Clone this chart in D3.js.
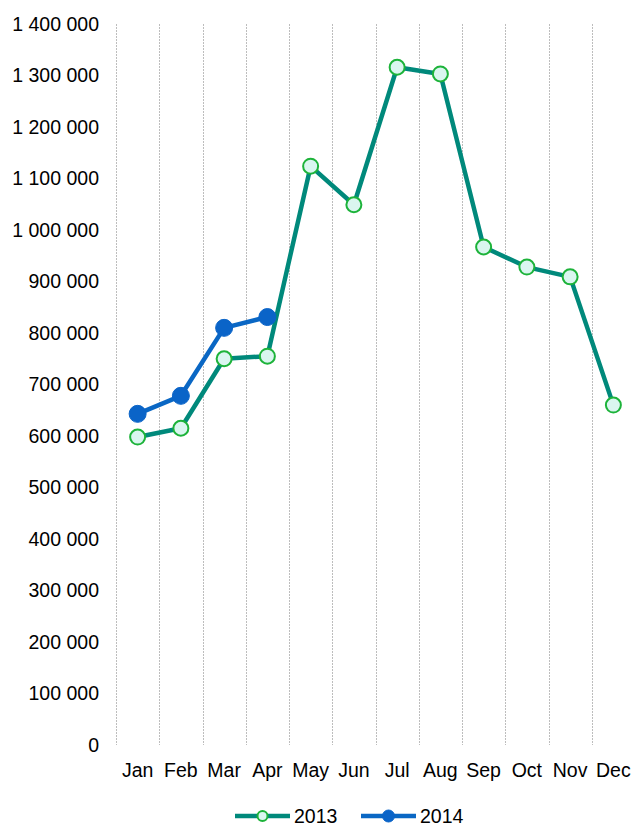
<!DOCTYPE html>
<html>
<head>
<meta charset="utf-8">
<script src="https://cdn.jsdelivr.net/npm/d3@7"></script>
<style>
  body { margin: 0; background: #fff; }
  text { font-family: "Liberation Sans", Arial, sans-serif; font-size: 19.5px; fill: #000; }
</style>
</head>
<body>
<div id="graph"></div>
<script>
var months = ["Jan", "Feb", "Mar", "Apr", "May", "Jun", "Jul", "Aug", "Sep", "Oct", "Nov", "Dec"];
var values2013 = [598000, 615000, 750000, 755000, 1124000, 1049000, 1316000, 1303000, 967000, 928000, 909000, 660000];
var values2014 = [643000, 678000, 810000, 831000];
var yTicks = [0, 100000, 200000, 300000, 400000, 500000, 600000, 700000, 800000, 900000, 1000000, 1100000, 1200000, 1300000, 1400000];

var W = 635, H = 828;
var margin = {top: 24, right: 0, bottom: 83, left: 116},
    width = W - margin.left - margin.right,
    height = H - margin.top - margin.bottom;

var svg = d3.select("#graph").append("svg")
    .attr("width", W)
    .attr("height", H);

var g = svg.append("g")
    .attr("transform", "translate(" + margin.left + "," + margin.top + ")");

var x = d3.scaleBand().domain(months).range([0, 519]).padding(0);
var y = d3.scaleLinear().domain([0, 1400000]).range([height, 0]);

function fmt(v) {
  return d3.format(",")(v).replace(/,/g, " ");
}

// vertical dotted gridlines between categories
var bounds = months.map(function(m) { return x(m); }).concat([x(months[11]) + x.bandwidth()]);
g.selectAll(".vgrid")
  .data(bounds)
  .enter().append("line")
  .attr("class", "vgrid")
  .attr("x1", function(d) { return Math.round(d) + 0.5; })
  .attr("x2", function(d) { return Math.round(d) + 0.5; })
  .attr("y1", 0)
  .attr("y2", height)
  .attr("stroke", "#bdbdbd")
  .attr("stroke-width", 1)
  .attr("stroke-dasharray", "2,1");

// y tick labels
g.selectAll(".ylab")
  .data(yTicks)
  .enter().append("text")
  .attr("class", "ylab")
  .attr("x", -17)
  .attr("y", function(d) { return y(d); })
  .attr("dy", "0.35em")
  .attr("text-anchor", "end")
  .text(fmt);

// x labels
g.selectAll(".xlab")
  .data(months)
  .enter().append("text")
  .attr("class", "xlab")
  .attr("x", function(d) { return x(d) + x.bandwidth() / 2; })
  .attr("y", height + 25)
  .attr("dy", "0.35em")
  .attr("text-anchor", "middle")
  .text(function(d) { return d; });

var line = d3.line()
  .x(function(d, i) { return x(months[i]) + x.bandwidth() / 2; })
  .y(function(d) { return y(d); });

var series = [
  {name: "2013", values: values2013, color: "#00897b", fill: "#daf6f0", stroke: "#1db33a", r: 7.5, sw: 2},
  {name: "2014", values: values2014, color: "#0a67c4", fill: "#0a64c8", stroke: "#0a64c8", r: 8.5, sw: 1}
];

series.forEach(function(s) {
  g.append("path")
    .datum(s.values)
    .attr("fill", "none")
    .attr("stroke", s.color)
    .attr("stroke-width", 4.5)
    .attr("stroke-linejoin", "round")
    .attr("d", line);
  g.selectAll(".pt" + s.name)
    .data(s.values)
    .enter().append("circle")
    .attr("cx", function(d, i) { return x(months[i]) + x.bandwidth() / 2; })
    .attr("cy", function(d) { return y(d); })
    .attr("r", s.r)
    .attr("fill", s.fill)
    .attr("stroke", s.stroke)
    .attr("stroke-width", s.sw);
});

// legend
var legend = svg.append("g").attr("transform", "translate(0,816)");
var legX = [235, 361];
series.forEach(function(s, i) {
  var lg = legend.append("g").attr("transform", "translate(" + legX[i] + ",0)");
  lg.append("line")
    .attr("x1", 0).attr("x2", 55)
    .attr("y1", 0).attr("y2", 0)
    .attr("stroke", s.color)
    .attr("stroke-width", 4.5);
  lg.append("circle")
    .attr("cx", 27.5).attr("cy", 0)
    .attr("r", i == 0 ? 5 : 6)
    .attr("fill", s.fill)
    .attr("stroke", s.stroke)
    .attr("stroke-width", s.sw);
  lg.append("text")
    .attr("x", 59)
    .attr("y", 0)
    .attr("dy", "0.35em")
    .text(s.name);
});
</script>
</body>
</html>
